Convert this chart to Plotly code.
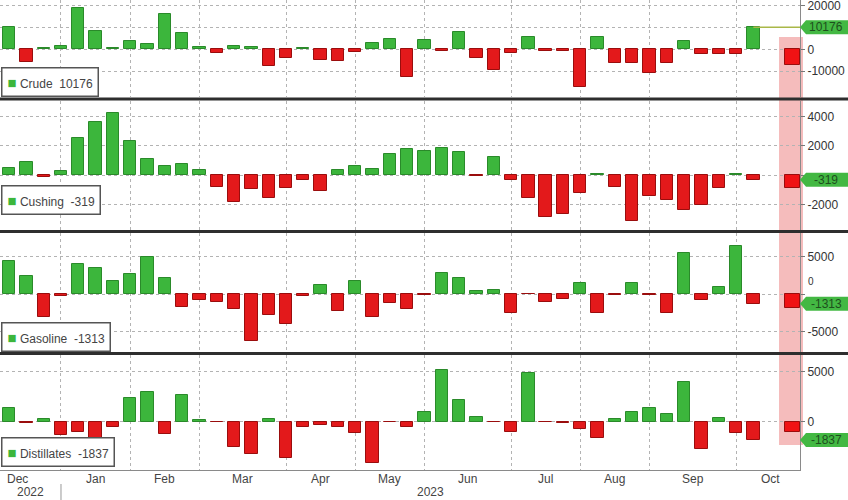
import pandas as pd
import plotly.graph_objects as go

# ---------------- data ----------------
weeks = pd.date_range("2022-12-16", "2023-10-13", freq="W-FRI")  # 44 weekly points
names = ["Crude", "Cushing", "Gasoline", "Distillates"]

crude = [10200, -5900, 700, 1700, 19000, 8400, 500, 4100, 2400, 16300, 7600, 1200,
         -1700, 1500, 1100, -7500, -3700, 600, -4600, -5100, -1300, 3000, 5000, -12500,
         4500, -500, 7900, -3800, -9600, -1500, 5900, -700, -600, -17000, 5900, -6000,
         -6100, -10600, -6300, 4000, -2100, -2200, -2200, 10176]
cushing = [450, 890, -110, 300, 2540, 3630, 4250, 2320, 1070, 640, 730, 340,
           -840, -1820, -980, -1590, -910, -340, -1070, 340, 610, 410, 1430, 1750,
           1650, 1810, 1600, -50, 1220, -350, -1570, -2890, -2650, -1250, 80, -820,
           -3120, -1460, -1720, -2420, -2040, -870, 50, -319]
gasoline = [4440, 2440, -3110, -270, 3950, 3420, 1730, 2620, 4970, 2180, -1780, -800,
            -1020, -2040, -6260, -2800, -4040, -200, 1200, -2260, 1780, -3020, -1240, -2000,
            -100, 2770, 2100, 400, 535, -2500, -60, -1030, -710, 1430, -2590, -150,
            1430, -100, -2590, 5440, -800, 980, 6420, -1313]
distillates = [1330, -170, 230, -1330, -1000, -1770, -500, 2330, 3000, -1270, 2670, 170,
               -30, -2570, -3230, 270, -3600, -570, -330, -570, -1100, -4170, -60, -500,
               1000, 5170, 2170, 500, -50, -1000, 4900, -50, -170, -770, -1670, 270,
               1000, 1330, 770, 4000, -2770, 330, -1170, -1837]
series = [crude, cushing, gasoline, distillates]

overlay_week = "2023-10-29"
overlay_values = [-7000, -900, -1900, -1000]

tick_values = [[-10000, 0, 10000, 20000], [-2000, 0, 2000, 4000], [-5000, 0, 5000], [0, 5000]]
tick_labels = [["-10000", "0", "", "20000"], ["-2000", "", "2000", "4000"],
               ["-5000", "", "5000"], ["0", "5000"]]
month_labels = ["Dec", "Jan", "Feb", "Mar", "Apr", "May", "Jun", "Jul", "Aug", "Sep", "Oct"]
year_labels = ["2022", "2023"]

# ---------------- styling / layout ----------------
W, H = 848, 500
ML, MR, MT, MB = 0, 48, 0, 30
PH = H - MT - MB  # plot height px
x_range = [pd.Timestamp("2022-12-12 08:00"), pd.Timestamp("2023-10-31 21:00")]
y_ranges = [[-21818, 22727], [-3754, 5051], [-7733, 8133], [-4830, 6670]]
panel_px = [(0, 97), (101, 230), (233, 352), (355, 470)]
domains = [[1 - b / PH, 1 - t / PH] for t, b in panel_px]

GREEN, GREEN_EDGE = "#3cb63c", "#2a8a2a"
RED, RED_EDGE = "#e3191b", "#9a0d0d"
GRID = "#b3b3b3"
FONT = "Liberation Sans, Arial, sans-serif"
bar_width = 5 * 86400000

# first Friday of each month -> month gridlines (Bloomberg weekly)
month_starts = pd.date_range("2022-12-01", "2023-11-01", freq="MS")
first_fri = [d + pd.Timedelta(days=(4 - d.weekday()) % 7) for d in month_starts]

fig = go.Figure()
for i, (vals, name) in enumerate(zip(series, names), start=1):
    fig.add_trace(go.Bar(
        x=weeks, y=vals, width=bar_width,
        marker=dict(color=[GREEN if v >= 0 else RED for v in vals],
                    line=dict(color=[GREEN_EDGE if v >= 0 else RED_EDGE for v in vals], width=1)),
        xaxis=f"x{i}", yaxis=f"y{i}", showlegend=False, name=name))
    ov = overlay_values[i - 1]
    fig.add_trace(go.Bar(
        x=[pd.Timestamp(overlay_week)], y=[ov], width=6 * 86400000,
        marker=dict(color="#f01214" if ov < 0 else GREEN, line=dict(color=RED_EDGE, width=1)),
        xaxis=f"x{i}", yaxis=f"y{i}", showlegend=False, name=name + " latest"))

layout = dict(
    width=W, height=H, margin=dict(l=ML, r=MR, t=MT, b=MB),
    paper_bgcolor="white", plot_bgcolor="rgba(0,0,0,0)",
    font=dict(family=FONT, size=12, color="#333"),
    bargap=0, barmode="overlay", showlegend=False,
)
for i in range(1, 5):
    layout[f"xaxis{i}"] = dict(
        domain=[0, 1], range=x_range, anchor=f"y{i}", type="date",
        tickvals=first_fri, showticklabels=False, ticks="",
        showgrid=True, gridcolor=GRID, griddash="dot", gridwidth=1,
        zeroline=False, showline=(i == 4), linecolor="#8a8a8a", linewidth=1,
        matches=None if i == 1 else "x")
    layout[f"yaxis{i}"] = dict(
        domain=domains[i - 1], range=y_ranges[i - 1], anchor=f"x{i}", side="right",
        tickvals=tick_values[i - 1], ticktext=tick_labels[i - 1],
        tickfont=dict(size=12, color="#333"), ticks="outside", ticklen=4, tickcolor="#777",
        ticklabeloverflow="allow",
        showgrid=True, gridcolor=GRID, griddash="dot", gridwidth=1,
        zeroline=False, showline=True, linecolor="#8a8a8a", linewidth=1)
fig.update_layout(**layout)

shapes = []
annotations = []

# pink highlight band behind the latest (overlay) bars
shapes.append(dict(type="rect", xref="paper", yref="paper",
                   x0=779 / 800, x1=803 / 800, y0=1 - 445 / PH, y1=1 - 37 / PH,
                   fillcolor="rgba(232,95,95,0.42)", line=dict(width=0), layer="below"))

# thick panel separators
for ypx in (99, 231.5, 353.5):
    shapes.append(dict(type="line", xref="paper", yref="paper", x0=0, x1=W / 800,
                       y0=1 - ypx / PH, y1=1 - ypx / PH, line=dict(color="#2e2e2e", width=3)))

# crude last value level line
shapes.append(dict(type="line", xref="x1", yref="y1", x0=weeks[-1], x1=x_range[1],
                   y0=crude[-1], y1=crude[-1], line=dict(color="#a9b848", width=1.5)))

# right-hand value tags + legend boxes
legend_bottom_px = [97, 215, 352, 467]
for i, (vals, name) in enumerate(zip(series, names), start=1):
    last = vals[-1]
    lo, hi = y_ranges[i - 1]
    t, b = panel_px[i - 1]
    per_px = (hi - lo) / (b - t)
    h = 7 * per_px
    x_tip, x_base, x_end = 1.0, 806 / 800, W / 800
    shapes.append(dict(type="path", xref="paper", yref=f"y{i}",
                       path=f"M {x_tip},{last} L {x_base},{last + h} L {x_end},{last + h} "
                            f"L {x_end},{last - h} L {x_base},{last - h} Z",
                       fillcolor="#43b843", line=dict(width=0), layer="above"))
    annotations.append(dict(xref="paper", yref=f"y{i}", x=826 / 800, y=last,
                            xanchor="center", yanchor="middle", showarrow=False,
                            text=f"{last}", font=dict(size=12, color="#1d4f1d")))
    annotations.append(dict(xref="paper", yref="paper", x=0.001, y=1 - legend_bottom_px[i - 1] / PH,
                            xanchor="left", yanchor="bottom", showarrow=False,
                            text=f"<span style='color:{GREEN};font-size:15px'>■</span> {name}  {last}",
                            font=dict(size=12, color="#444"), bgcolor="white",
                            bordercolor="#555", borderwidth=1.5, borderpad=5))

# small zero label sitting just above the gasoline tag (as in the reference)
annotations.append(dict(xref="paper", yref="y3", x=806 / 800, y=0, yshift=5,
                        xanchor="left", yanchor="bottom", showarrow=False,
                        text="0", font=dict(size=10, color="#333")))

# month labels centred in each month's week span
for k, lab in enumerate(month_labels):
    mid = first_fri[k] + (first_fri[k + 1] - first_fri[k]) / 2
    annotations.append(dict(xref="x4", yref="paper", x=mid, y=1 - 479 / PH,
                            xanchor="center", yanchor="middle", showarrow=False,
                            text=lab, font=dict(size=12, color="#444")))
# year labels centred over visible part of each year
jan = first_fri[1]
year_mids = [x_range[0] + (jan - x_range[0]) / 2, jan + (x_range[1] - jan) / 2]
for lab, mid in zip(year_labels, year_mids):
    annotations.append(dict(xref="x4", yref="paper", x=mid, y=1 - 492 / PH,
                            xanchor="center", yanchor="middle", showarrow=False,
                            text=lab, font=dict(size=12, color="#444")))
shapes.append(dict(type="line", xref="x4", yref="paper", x0=jan, x1=jan,
                   y0=1 - 484 / PH, y1=1 - 500 / PH, line=dict(color="#999", width=1)))

fig.update_layout(shapes=shapes, annotations=annotations)
fig.write_html("out.html", config={"displayModeBar": False},
               post_script="document.body.style.margin='0';document.body.style.overflow='hidden';")
